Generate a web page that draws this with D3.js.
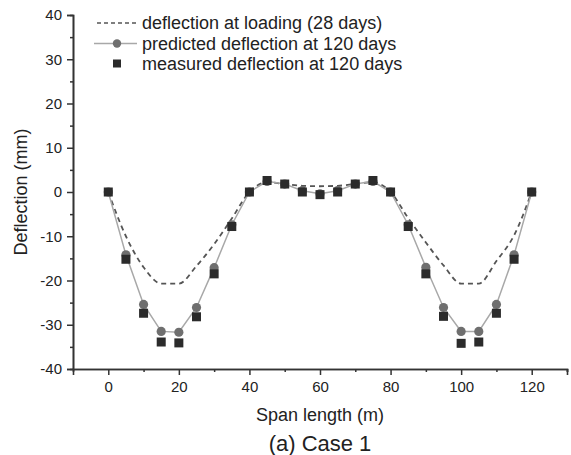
<!DOCTYPE html>
<html><head><meta charset="utf-8">
<script src="https://cdn.jsdelivr.net/npm/d3@7"></script>
<style>
body{margin:0;background:#fff;}
text{font-family:"Liberation Sans",Arial,sans-serif;fill:#222;}
</style></head>
<body>
<svg id="chart" width="571" height="455"></svg>
<script>
const span = [0,5,10,15,20,25,30,35,40,45,50,55,60,65,70,75,80,85,90,95,100,105,110,115,120];
const loading = [0,-10,-17,-20.7,-20.7,-16.7,-11.8,-6,0,2.2,1.8,1.4,1.3,1.4,1.8,2.2,0,-5.9,-11.4,-16.6,-20.7,-20.7,-15.6,-9.8,0];
const predicted = [0,-14.2,-25.4,-31.5,-31.7,-26.1,-17.1,-7.4,0,2.4,1.8,0.3,-0.4,0.3,1.8,2.4,0,-7.4,-17,-26.1,-31.5,-31.5,-25.4,-14.2,0];
const measured = [0,-15.2,-27.4,-33.9,-34.1,-28.2,-18.5,-7.8,0,2.6,1.8,0,-0.6,0,1.8,2.6,0,-7.8,-18.5,-28.1,-34.2,-33.9,-27.4,-15.2,0];
const xTicks = [0,20,40,60,80,100,120];
const yTicks = [-40,-30,-20,-10,0,10,20,30,40];
const legendLabels = ["deflection at loading (28 days)","predicted deflection at 120 days","measured deflection at 120 days"];

const svg = d3.select("#chart");
const x = d3.scaleLinear().domain([-10,130]).range([73,567]);
const y = d3.scaleLinear().domain([-40,40]).range([369,15]);
const axisColor = "#333";
const fmt = d => String(d);

// x axis
const gx = svg.append("g").attr("transform","translate(0,369)");
gx.call(d3.axisBottom(x).tickValues(xTicks).tickSize(6).tickPadding(6).tickFormat(fmt));
gx.append("g").call(d3.axisBottom(x).tickValues(d3.range(10,131,20)).tickSize(3).tickFormat(""));
gx.selectAll("path.domain").attr("stroke",axisColor).attr("stroke-width",1.6);
gx.selectAll("line").attr("stroke",axisColor).attr("stroke-width",1.5);
gx.selectAll("text").attr("font-size",15).attr("fill","#222").style("font-family","'Liberation Sans',Arial,sans-serif");

// y axis
const gy = svg.append("g").attr("transform","translate(73,0)");
gy.call(d3.axisLeft(y).tickValues(yTicks).tickSize(6).tickPadding(5).tickFormat(fmt));
gy.append("g").call(d3.axisLeft(y).tickValues(d3.range(-35,40,10)).tickSize(3).tickFormat(""));
gy.selectAll("path.domain").attr("stroke",axisColor).attr("stroke-width",1.6);
gy.selectAll("line").attr("stroke",axisColor).attr("stroke-width",1.5);
gy.selectAll("text").attr("font-size",15).attr("fill","#222").style("font-family","'Liberation Sans',Arial,sans-serif");

// titles
svg.append("text").attr("x",320).attr("y",421).attr("text-anchor","middle").attr("font-size",18).text("Span length (m)");
svg.append("text").attr("x",320).attr("y",451).attr("text-anchor","middle").attr("font-size",22).text("(a) Case 1");
svg.append("text").attr("transform","translate(27,192) rotate(-90)").attr("text-anchor","middle").attr("font-size",18).text("Deflection (mm)");

// loading dashed
const dLoad = span.map((s,i)=>[s,loading[i]]);
svg.append("path").datum(dLoad)
  .attr("d", d3.line().x(d=>x(d[0])).y(d=>y(d[1])).curve(d3.curveMonotoneX))
  .attr("fill","none").attr("stroke","#555").attr("stroke-width",1.8).attr("stroke-dasharray","5,4");

// predicted line + circles
const dPred = span.map((s,i)=>[s,predicted[i]]);
svg.append("path").datum(dPred)
  .attr("d", d3.line().x(d=>x(d[0])).y(d=>y(d[1])))
  .attr("fill","none").attr("stroke","#a8a8a8").attr("stroke-width",1.5);
svg.append("g").selectAll("circle").data(dPred).join("circle")
  .attr("cx",d=>x(d[0])).attr("cy",d=>y(d[1])).attr("r",4.6).attr("fill","#6f6f6f");

// measured squares
const dMeas = span.map((s,i)=>[s,measured[i]]);
const sq = 9;
svg.append("g").selectAll("rect").data(dMeas).join("rect")
  .attr("x",d=>x(d[0])-sq/2).attr("y",d=>y(d[1])-sq/2).attr("width",sq).attr("height",sq).attr("fill","#2b2b2b");

// legend
const lg = svg.append("g");
const rows = [23,43.5,63.5];
lg.append("line").attr("x1",97).attr("x2",137).attr("y1",rows[0]).attr("y2",rows[0])
  .attr("stroke","#555").attr("stroke-width",1.3).attr("stroke-dasharray","4,3");
lg.append("line").attr("x1",94).attr("x2",137).attr("y1",rows[1]).attr("y2",rows[1])
  .attr("stroke","#a8a8a8").attr("stroke-width",1.5);
lg.append("circle").attr("cx",117).attr("cy",rows[1]).attr("r",4.2).attr("fill","#6f6f6f");
lg.append("rect").attr("x",117-4).attr("y",rows[2]-4).attr("width",8).attr("height",8).attr("fill","#2b2b2b");
legendLabels.forEach((t,i)=>{
  lg.append("text").attr("x",142).attr("y",rows[i]+6).attr("font-size",18).text(t);
});
</script>
</body></html>
